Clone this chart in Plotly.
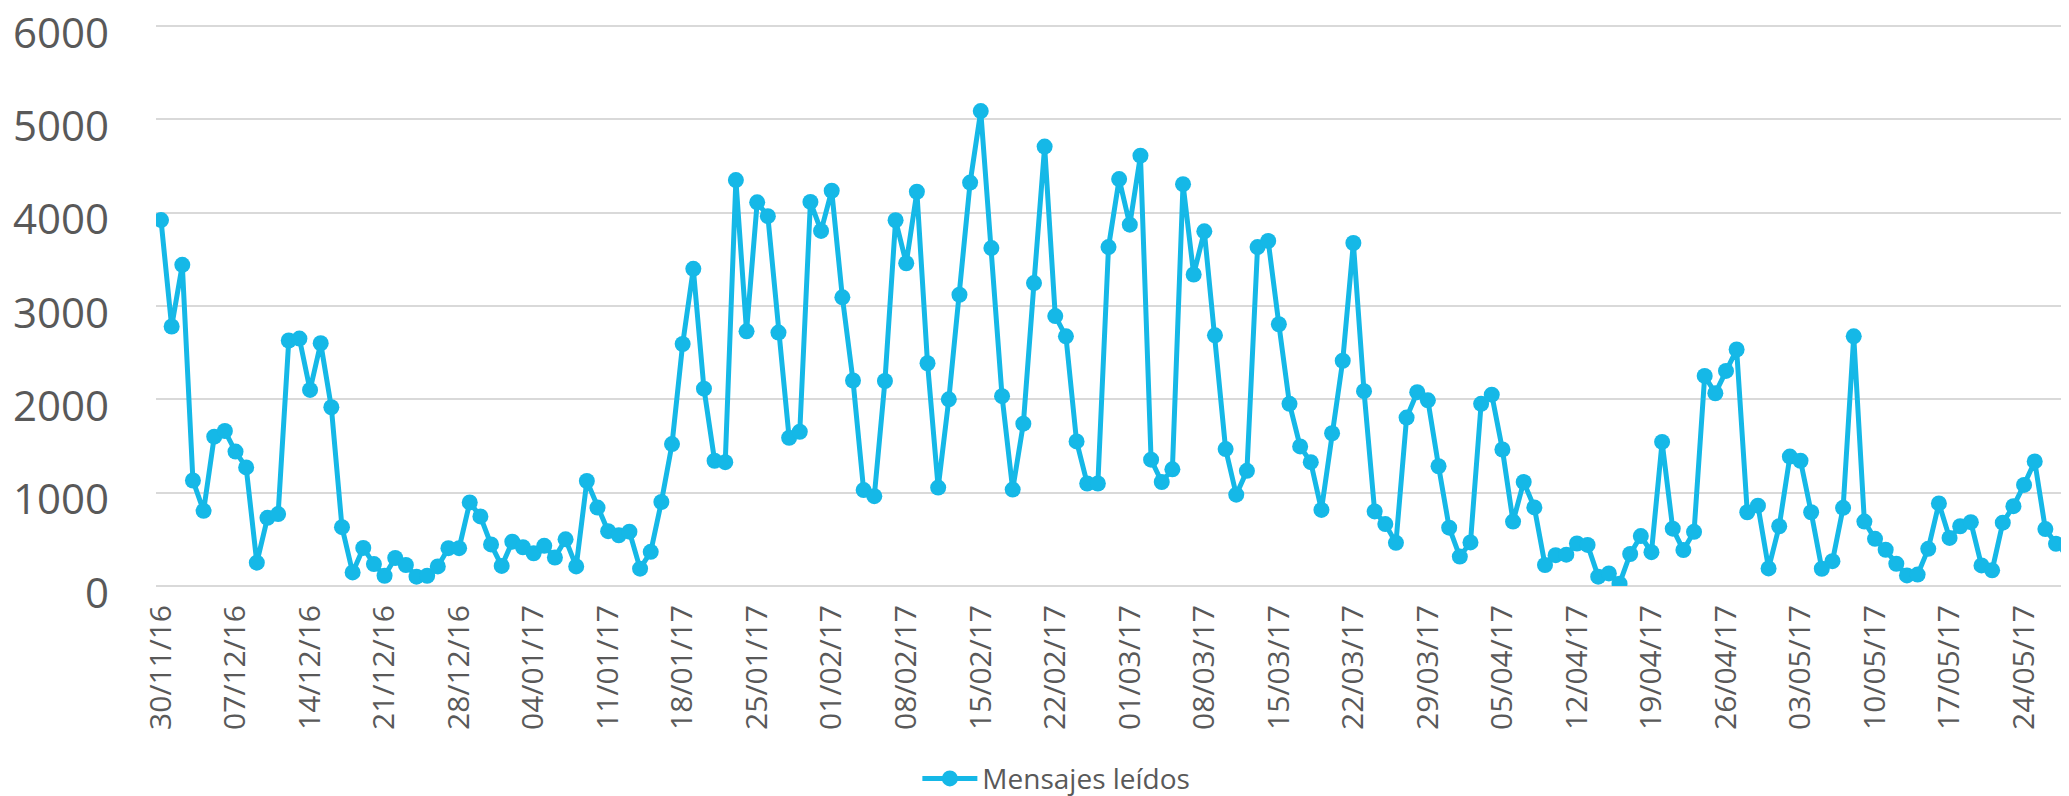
import pandas as pd
import plotly.graph_objects as go

# ---- data ----
start_date = "2016-11-30"
series_name = "Mensajes leídos"
mensajes_leidos = [
    3920, 2780, 3440, 1130, 805, 1600, 1660, 1440, 1270, 250,
    730, 770, 2630, 2650, 2100, 2600, 1915, 630, 145, 408,
    235, 110, 300, 225, 100, 110, 210, 405, 405, 895,
    745, 445, 215, 475, 415, 350, 430, 305, 500, 210,
    1125, 840, 587, 543, 582, 186, 366, 900, 1520, 2592,
    3397, 2114, 1342, 1326, 4348, 2728, 4110, 3962, 2715, 1587,
    1652, 4114, 3804, 4234, 3092, 2201, 1027, 962, 2196, 3918,
    3457, 4223, 2386, 1054, 2000, 3120, 4321, 5087, 3620, 2033,
    1033, 1739, 3245, 4707, 2891, 2674, 1549, 1098, 1098, 3630,
    4359, 3870, 4610, 1353, 1114, 1250, 4304, 3337, 3799, 2685,
    1467, 978, 1234, 3630, 3696, 2804, 1951, 1495, 1326, 815,
    1636, 2413, 3674, 2087, 799, 663, 462, 1804, 2076, 1989,
    1283, 625, 315, 467, 1951, 2049, 1462, 690, 1114, 842,
    225, 330, 336, 455, 440, 100, 135, 25, 343, 535,
    362, 1543, 614, 385, 580, 2250, 2065, 2304, 2533, 790,
    860, 188, 640, 1386, 1342, 790, 185, 266, 837, 2674,
    690, 505, 388, 238, 113, 122, 398, 885, 515, 640,
    684, 220, 168, 678, 855, 1083, 1334, 610, 452, 418,
]
dates = pd.date_range(start_date, periods=len(mensajes_leidos), freq="D")
y_ticks = [0, 1000, 2000, 3000, 4000, 5000, 6000]

LINE_COLOR = "#15B8E7"
TEXT_COLOR = "#595959"
GRID_COLOR = "#D9D9D9"

fig = go.Figure()
fig.add_trace(go.Scatter(
    x=dates, y=mensajes_leidos, name=series_name,
    mode="lines+markers",
    line=dict(color=LINE_COLOR, width=5),
    marker=dict(color=LINE_COLOR, size=16),
    showlegend=True,
))

# the page body has an 8px default margin, so the figure is 8px smaller
fig.update_layout(
    width=2061, height=788,
    margin=dict(l=148, r=0, t=16, b=210, autoexpand=False),
    paper_bgcolor="white", plot_bgcolor="white",
    font=dict(family="Open Sans", color=TEXT_COLOR),
    showlegend=True,
    legend=dict(
        orientation="h", x=0.398, xanchor="left", y=-0.343, yanchor="middle",
        font=dict(size=28, color=TEXT_COLOR, family="Open Sans"),
        bgcolor="rgba(0,0,0,0)", itemwidth=55,
    ),
)

fig.update_xaxes(
    type="date",
    range=["2016-11-29 12:43", "2017-05-28 05:17"],
    tick0=start_date, dtick=7 * 86400000,
    tickformat="%d/%m/%y", tickangle=-90,
    tickfont=dict(size=30, color=TEXT_COLOR, family="Open Sans"),
    showgrid=False, zeroline=False, showline=False, ticks="",
    ticklabelstandoff=12, automargin=False, ticklabeloverflow="allow",
)
fig.update_yaxes(
    range=[0, 6020], tickvals=y_ticks,
    tickfont=dict(size=42, color=TEXT_COLOR, family="Open Sans"),
    showgrid=True, gridcolor=GRID_COLOR, gridwidth=2,
    zeroline=True, zerolinecolor=GRID_COLOR, zerolinewidth=2,
    showline=False, ticks="", ticklabelstandoff=46, ticklabelshift=7,
    automargin=False, ticklabeloverflow="allow",
)

fig.write_html("out.html")
